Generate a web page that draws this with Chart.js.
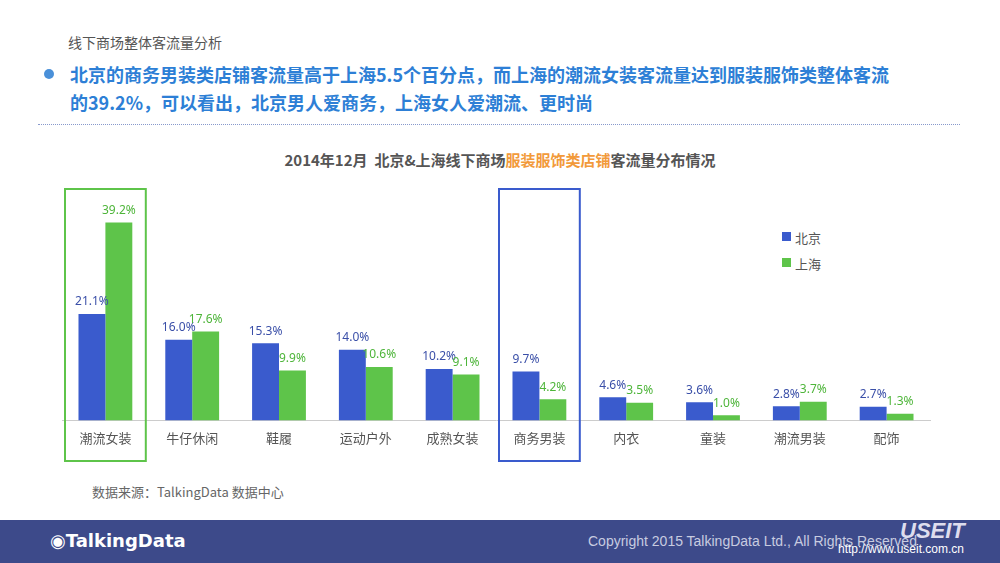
<!DOCTYPE html>
<html><head><meta charset="utf-8">
<script src="https://cdn.jsdelivr.net/npm/chart.js@4.4.1/dist/chart.umd.min.js"></script>
<style>
body{margin:0;width:1000px;height:563px;position:relative;background:#fff;font-family:"Noto Sans CJK SC","Noto Sans",sans-serif;overflow:hidden}
.abs{position:absolute}
</style></head><body>
<div class="abs" style="left:68px;top:32px;font-size:14px;color:#555">线下商场整体客流量分析</div>
<div class="abs" style="left:44px;top:69px;width:10px;height:10px;border-radius:50%;background:#4a90d9"></div>
<div class="abs" style="left:70px;top:60px;width:900px;font-size:18px;font-weight:bold;color:#2d7fd6;line-height:28px">北京的商务男装类店铺客流量高于上海5.5个百分点，而上海的潮流女装客流量达到服装服饰类整体客流<br>的39.2%，可以看出，北京男人爱商务，上海女人爱潮流、更时尚</div>
<div class="abs" style="left:38px;top:124px;width:922px;border-top:1px dotted #8899cc"></div>
<div class="abs" style="left:0;width:1000px;top:149px;text-align:center;font-size:15px;font-weight:bold;color:#555">2014年12月&nbsp;&nbsp;北京&amp;上海线下商场<span style="color:#f29a3a">服装服饰类店铺</span>客流量分布情况</div>
<div class="abs" style="left:782px;top:232px;width:9px;height:9px;background:#3a5bcd"></div>
<div class="abs" style="left:795px;top:228px;font-size:13px;color:#555">北京</div>
<div class="abs" style="left:782px;top:258px;width:9px;height:9px;background:#5ec44a"></div>
<div class="abs" style="left:795px;top:254px;font-size:13px;color:#555">上海</div>
<div class="abs" style="left:92px;top:482px;font-size:13px;color:#666">数据来源：TalkingData 数据中心</div>
<div class="abs" style="left:0;top:520px;width:1000px;height:43px;background:#3d4a8a"></div>
<div class="abs" style="left:50px;top:530px;font-size:18px;font-weight:bold;color:#fff;font-family:'DejaVu Sans'">◉TalkingData</div>
<div class="abs" style="left:588px;top:533px;font-size:14px;color:#c8cce0;font-family:'Liberation Sans'">Copyright 2015 TalkingData Ltd., All Rights Reserved</div>
<div class="abs" style="left:900px;top:518px;font-size:22px;font-style:italic;font-weight:bold;color:#dde;font-family:'Liberation Sans'">USEIT</div>
<div class="abs" style="left:838px;top:542px;font-size:12px;color:#fff;font-family:'Liberation Sans'">http://www.useit.com.cn</div>
<canvas id="c" class="abs" style="left:40px;top:170px" width="920" height="300"></canvas>
<script>
const categories = ['潮流女装','牛仔休闲','鞋履','运动户外','成熟女装','商务男装','内衣','童装','潮流男装','配饰'];
const beijing = [21.1,16.0,15.3,14.0,10.2,9.7,4.6,3.6,2.8,2.7];
const shanghai = [39.2,17.6,9.9,10.6,9.1,4.2,3.5,1.0,3.7,1.3];
const highlight = [{i:0,color:'#5ec44a'},{i:5,color:'#3a5bcd'}];

const extras = {
  id:'extras',
  afterDatasetsDraw(chart){
    const ctx = chart.ctx;
    ctx.save();
    ctx.font = '12px "Noto Sans"';
    ctx.textAlign = 'center';
    ctx.textBaseline = 'bottom';
    chart.data.datasets.forEach((ds,di)=>{
      ctx.fillStyle = di===0 ? '#3a4fa8' : '#4eb53a';
      chart.getDatasetMeta(di).data.forEach((bar,j)=>{
        ctx.fillText(ds.data[j].toFixed(1)+'%', bar.x, bar.y-6);
      });
    });
    const x = chart.scales.x;
    const w = (x.getPixelForValue(1)-x.getPixelForValue(0));
    highlight.forEach(h=>{
      const cx = x.getPixelForValue(h.i);
      ctx.strokeStyle = h.color; ctx.lineWidth = 2;
      ctx.strokeRect(cx-w/2+3, 19, w-6, 272);
    });
    ctx.restore();
  }
};

new Chart(document.getElementById('c'),{
  type:'bar',
  data:{labels:categories,datasets:[
    {label:'北京',data:beijing,backgroundColor:'#3a5bcd'},
    {label:'上海',data:shanghai,backgroundColor:'#5ec44a'}]},
  options:{
    responsive:false,animation:false,
    layout:{padding:{top:46,left:22,right:30,bottom:14}},
    categoryPercentage:0.62,barPercentage:1,
    plugins:{legend:{display:false},tooltip:{enabled:false}},
    scales:{
      x:{grid:{display:false,drawTicks:false},border:{color:'#ccc'},
         ticks:{color:'#555',font:{size:13,family:'"Noto Sans CJK SC"'},padding:10}},
      y:{display:false,min:0,max:40.5}
    }
  },
  plugins:[extras]
});
</script>
</body></html>
